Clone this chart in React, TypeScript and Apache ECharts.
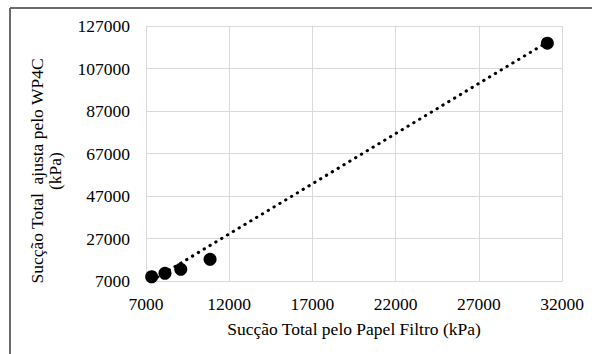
import React, { useEffect, useRef } from "react";
import * as echarts from "echarts";

// Measured points (kPa)
const paperFilterSuction = [7340, 8140, 9090, 10850, 31120];
const wp4cSuction = [9000, 10600, 12500, 17200, 118900];

// Linear trendline endpoints
const trendX = [7340, 31120];
const trendY = [7150, 119400];

const xAxisTitle = "Sucção Total pelo Papel Filtro (kPa)";
const yAxisTitle = "Sucção Total  ajusta pelo WP4C\n(kPa)";

const FONT = "'Liberation Serif', 'Times New Roman', serif";

export default function App() {
  const ref = useRef<HTMLDivElement>(null);

  useEffect(() => {
    if (!ref.current) return;
    const chart = echarts.init(ref.current, null, { renderer: "svg" });
    const points = paperFilterSuction.map((x, i) => [x, wp4cSuction[i]]);
    const trend = trendX.map((x, i) => [x, trendY[i]]);
    chart.setOption({
      animation: false,
      backgroundColor: "#ffffff",
      grid: { left: 146, top: 26, right: 30, bottom: 73, containLabel: false },
      xAxis: {
        type: "value",
        min: 7000,
        max: 32000,
        interval: 5000,
        axisLine: { show: true, lineStyle: { color: "#d9d9d9", width: 1 } },
        axisTick: { show: false },
        splitLine: { show: true, lineStyle: { color: "#d9d9d9", width: 1 } },
        axisLabel: {
          color: "#000",
          fontFamily: FONT,
          fontSize: 17.5,
          margin: 14,
          formatter: (v: number) => String(v),
        },
      },
      yAxis: {
        type: "value",
        min: 7000,
        max: 127000,
        interval: 20000,
        axisLine: { show: true, lineStyle: { color: "#d9d9d9", width: 1 } },
        axisTick: { show: false },
        splitLine: { show: true, lineStyle: { color: "#d9d9d9", width: 1 } },
        axisLabel: {
          color: "#000",
          fontFamily: FONT,
          fontSize: 17.5,
          margin: 16,
          formatter: (v: number) => String(v),
        },
      },
      series: [
        {
          type: "line",
          data: trend,
          symbol: "none",
          z: 2,
          lineStyle: {
            color: "#000",
            width: 3,
            type: [0.4, 6.4],
            cap: "round",
          },
        },
        {
          type: "scatter",
          data: points,
          symbol: "circle",
          symbolSize: 13,
          z: 3,
          itemStyle: { color: "#000", opacity: 1 },
        },
      ],
      graphic: [
        {
          type: "line",
          shape: { x1: 10, y1: 8, x2: 592, y2: 8 },
          style: { stroke: "#6b6b6b", lineWidth: 2 },
        },
        {
          type: "line",
          shape: { x1: 10, y1: 8, x2: 10, y2: 354 },
          style: { stroke: "#6b6b6b", lineWidth: 2 },
        },
        {
          type: "text",
          x: 354,
          y: 329,
          style: {
            text: xAxisTitle,
            fill: "#000",
            font: `17.5px ${FONT}`,
            align: "center",
            verticalAlign: "middle",
          },
        },
        {
          type: "text",
          x: 46,
          y: 171,
          rotation: Math.PI / 2,
          style: {
            text: yAxisTitle,
            fill: "#000",
            font: `17.5px ${FONT}`,
            align: "center",
            verticalAlign: "middle",
            lineHeight: 18,
          },
        },
      ],
    });
    return () => chart.dispose();
  }, []);

  return (
    <div
      ref={ref}
      style={{ position: "absolute", left: 0, top: 0, width: 592, height: 354 }}
    />
  );
}
